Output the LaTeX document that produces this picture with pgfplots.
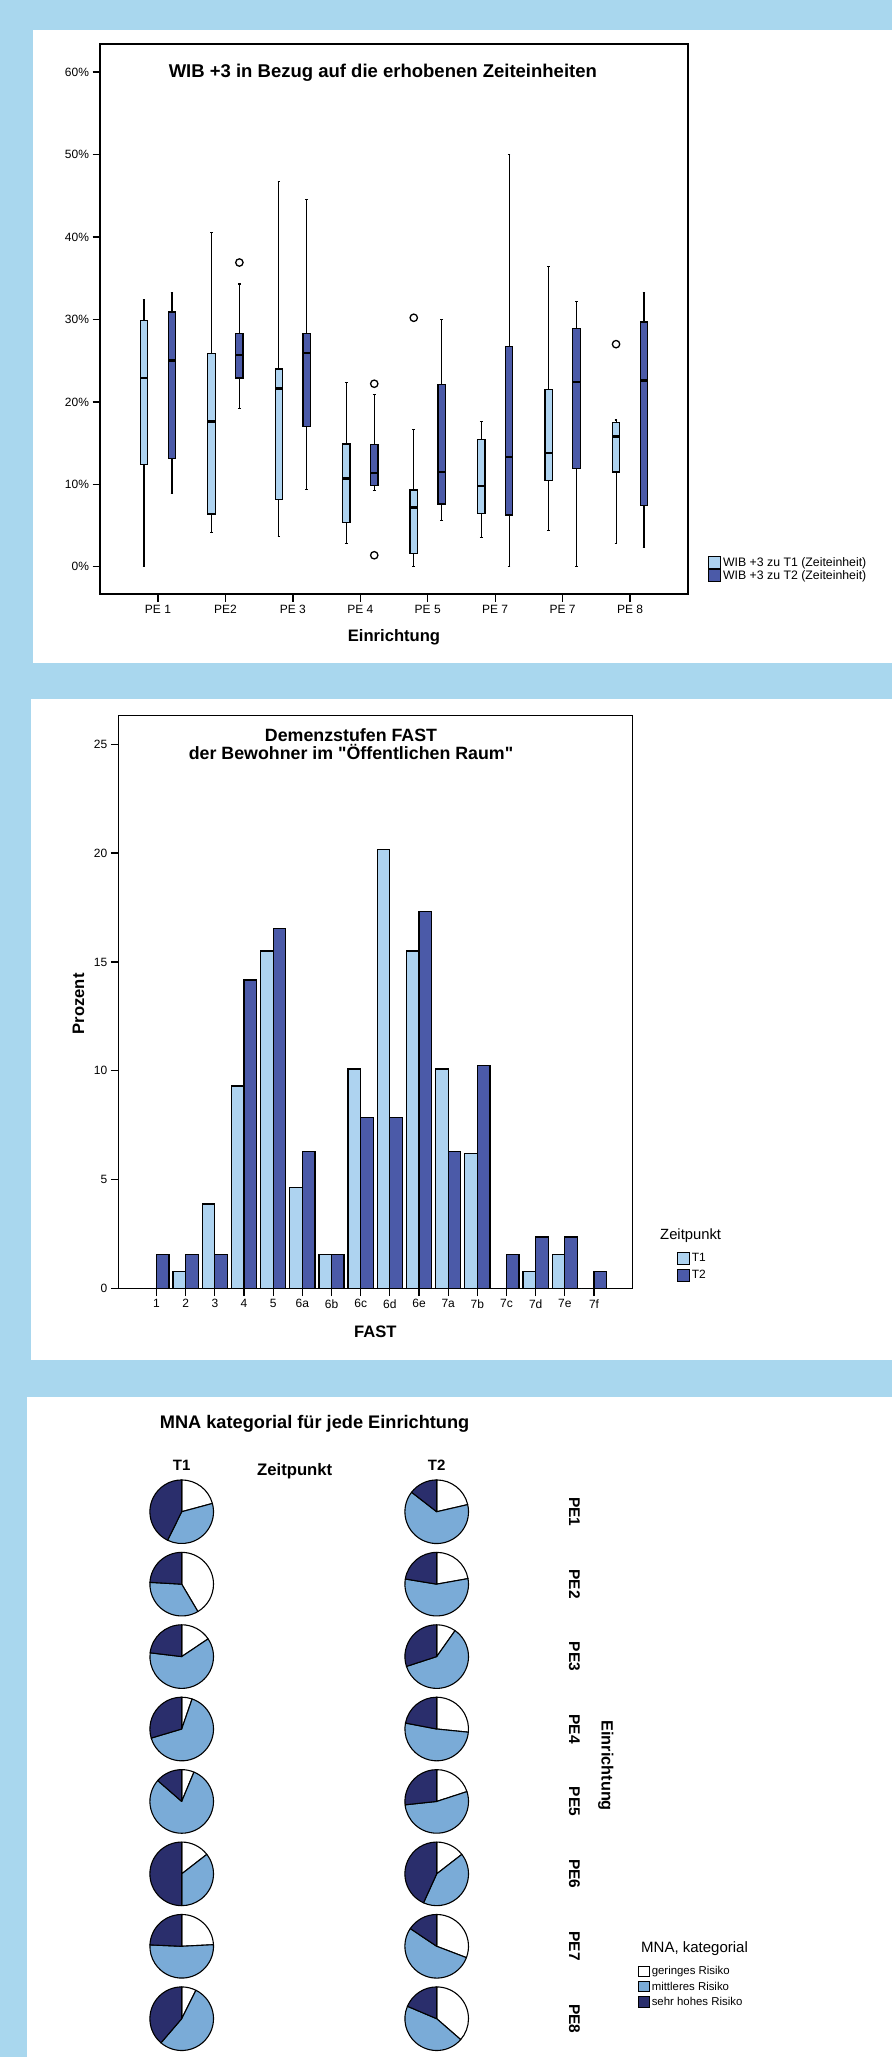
\documentclass[border=0pt]{standalone}
\usepackage{fontspec}
\setmainfont{Liberation Sans}
\usepackage{pgfplots}
\pgfplotsset{compat=1.18}
\usepgfplotslibrary{statistics}

\definecolor{bgblue}{HTML}{A9D7EE}
\definecolor{tone}{HTML}{AED3F0}
\definecolor{ttwo}{HTML}{4B5AA8}
\definecolor{pmid}{HTML}{7AABD7}
\definecolor{pdark}{HTML}{2A2E6C}

\newcommand{\fs}[2]{\fontsize{#1pt}{#2pt}\selectfont}
\pgfdeclareplotmark{nothing}{}

\pgfplotsset{
  spss/.style={
    scale only axis,
    clip=false,
    axis line style={line width=1.2pt},
    tick align=outside,
    tick pos=left,
    major tick length=7.5pt,
    tick style={black, line width=1.3pt},
    tick label style={font=\fs{12}{14}},
    /pgf/number format/assume math mode=true,
    legend image code/.code={\draw[#1, line width=1pt] (0pt,-5.8pt) rectangle (11.6pt,5.8pt);},
  },
  b1/.style={draw=black, fill=tone, mark=o, mark size=3.7pt,
    mark options={line width=1.3pt, fill=none}, forget plot},
  b2/.style={draw=black, fill=ttwo, mark=o, mark size=3.7pt,
    mark options={line width=1.3pt, fill=none}, forget plot},
}

\begin{document}
\begin{tikzpicture}
\path[use as bounding box] (0pt,0pt) rectangle (892pt,-2057pt);
\fill[bgblue] (0pt,0pt) rectangle (892pt,-2057pt);
\fill[white] (33pt,-29.5pt) rectangle (892pt,-662.6pt);
\fill[white] (31.3pt,-699pt) rectangle (892pt,-1359.5pt);
\fill[white] (27pt,-1397pt) rectangle (892pt,-2057pt);

% --- WIB +3 box plots
\begin{axis}[spss,
  at={(100pt,-594pt)}, anchor=south west,
  width=588pt, height=550pt,
  xmin=0.14, xmax=8.86, ymin=-3.3, ymax=63.4,
  xtick={1,...,8}, xticklabels={PE 1,PE2,PE 3,PE 4,PE 5,PE 7,PE 7,PE 8},
  ytick={0,10,...,60}, yticklabels={0\%,10\%,20\%,30\%,40\%,50\%,60\%},
  title={WIB +3 in Bezug auf die erhobenen Zeiteinheiten},
  every axis title/.style={at={(axis description cs:0.481,0.947)}, anchor=center, font=\bfseries\fs{18.5}{20}},
  xlabel={Einrichtung},
  every axis x label/.style={at={(axis description cs:0.5,-0.079)}, anchor=center, font=\bfseries\fs{16.6}{19}},
  legend style={draw=none, fill=none, at={(1.034,0.069)}, anchor=north west,
    inner sep=0pt, font=\fs{12.3}{14}, row sep=0.3pt, nodes={inner sep=0.8pt},
    /tikz/every odd column/.style={column sep=1.5pt}},
  legend cell align=left,
  boxplot/draw direction=y,
  boxplot/box extend=0.11,
  boxplot/whisker extend=0.04,
  boxplot/every median/.style={line width=2.5pt},
  boxplot/every whisker/.style={line width=1.1pt},
  boxplot/every box/.style={line width=1.3pt},
]
\addlegendimage{fill=tone, draw=black}
\addlegendentry{WIB +3 zu T1 (Zeiteinheit)}
\addlegendimage{fill=ttwo, draw=black}
\addlegendentry{WIB +3 zu T2 (Zeiteinheit)}

\addplot[b1, boxplot prepared={draw position=0.793, lower whisker=0, lower quartile=12.4, median=22.9, upper quartile=29.9, upper whisker=32.4}] coordinates {};
\addplot[b2, boxplot prepared={draw position=1.207, lower whisker=8.9, lower quartile=13.1, median=25.0, upper quartile=30.9, upper whisker=33.3}] coordinates {};
\addplot[b1, boxplot prepared={draw position=1.793, lower whisker=4.2, lower quartile=6.4, median=17.6, upper quartile=25.9, upper whisker=40.5}] coordinates {};
\addplot[b2, boxplot prepared={draw position=2.207, lower whisker=19.2, lower quartile=22.9, median=25.7, upper quartile=28.3, upper whisker=34.3}] coordinates {(0,36.9)};
\addplot[b1, boxplot prepared={draw position=2.793, lower whisker=3.7, lower quartile=8.2, median=21.6, upper quartile=24.0, upper whisker=46.7}] coordinates {};
\addplot[b2, boxplot prepared={draw position=3.207, lower whisker=9.4, lower quartile=17.0, median=25.9, upper quartile=28.3, upper whisker=44.5}] coordinates {};
\addplot[b1, boxplot prepared={draw position=3.793, lower whisker=2.8, lower quartile=5.4, median=10.7, upper quartile=14.9, upper whisker=22.3}] coordinates {};
\addplot[b2, boxplot prepared={draw position=4.207, lower whisker=9.3, lower quartile=9.9, median=11.4, upper quartile=14.8, upper whisker=20.9}] coordinates {(0,22.2) (0,1.4)};
\addplot[b1, boxplot prepared={draw position=4.793, lower whisker=0, lower quartile=1.6, median=7.2, upper quartile=9.3, upper whisker=16.7}] coordinates {(0,30.2)};
\addplot[b2, boxplot prepared={draw position=5.207, lower whisker=5.6, lower quartile=7.6, median=11.5, upper quartile=22.1, upper whisker=30.0}] coordinates {};
\addplot[b1, boxplot prepared={draw position=5.793, lower whisker=3.5, lower quartile=6.5, median=9.8, upper quartile=15.4, upper whisker=17.6}] coordinates {};
\addplot[b2, boxplot prepared={draw position=6.207, lower whisker=0, lower quartile=6.3, median=13.3, upper quartile=26.7, upper whisker=50.0}] coordinates {};
\addplot[b1, boxplot prepared={draw position=6.793, lower whisker=4.4, lower quartile=10.5, median=13.8, upper quartile=21.5, upper whisker=36.4}] coordinates {};
\addplot[b2, boxplot prepared={draw position=7.207, lower whisker=0, lower quartile=11.9, median=22.4, upper quartile=28.9, upper whisker=32.2}] coordinates {};
\addplot[b1, boxplot prepared={draw position=7.793, lower whisker=2.8, lower quartile=11.5, median=15.8, upper quartile=17.5, upper whisker=17.8}] coordinates {(0,27.0)};
\addplot[b2, boxplot prepared={draw position=8.207, lower whisker=2.3, lower quartile=7.4, median=22.6, upper quartile=29.7, upper whisker=33.3}] coordinates {};
\end{axis}

% --- FAST bar chart
\begin{axis}[spss,
  at={(118.3pt,-1288.5pt)}, anchor=south west,
  width=514.2pt, height=572.8pt,
  xmin=-1.31, xmax=16.32, ymin=0, ymax=26.31,
  xtick={0,...,15}, xticklabels={1,2,3,4,5,6a,6b,6c,6d,6e,7a,7b,7c,7d,7e,7f},
  ytick={0,5,...,25}, yticklabels={0,5,10,15,20,25},
  title={Demenzstufen FAST\\der Bewohner im \textquotedbl Öffentlichen Raum\textquotedbl},
  every axis title/.style={at={(axis description cs:0.4526,0.9504)}, anchor=center, align=center, font=\bfseries\fs{17.8}{17.6}},
  xlabel={FAST},
  every axis x label/.style={at={(axis description cs:0.5,-0.0756)}, anchor=center, font=\bfseries\fs{16.6}{19}},
  ylabel={Prozent},
  every axis y label/.style={at={(axis description cs:-0.0774,0.497)}, anchor=center, rotate=90, font=\bfseries\fs{16.6}{19}},
  legend style={draw=none, fill=none, at={(1.086,0.0642)}, anchor=north west,
    inner sep=0pt, font=\fs{12}{14}, row sep=4.6pt, nodes={inner sep=0.8pt},
    /tikz/every odd column/.style={column sep=1.5pt}},
  legend cell align=left,
]
\addlegendimage{fill=tone, draw=black}
\addlegendentry{T1}
\addlegendimage{fill=ttwo, draw=black}
\addlegendentry{T2}
\node[anchor=west, inner sep=0pt, font=\fs{14.8}{16}] at (axis description cs:1.0535,0.0925) {Zeitpunkt};

\addplot[ybar, bar width=12.6pt, bar shift=-6.3pt, fill=tone, draw=black, line width=1.3pt, forget plot] coordinates {
  (0,0) (1,0.78) (2,3.88) (3,9.30) (4,15.50) (5,4.65) (6,1.55) (7,10.08)
  (8,20.16) (9,15.50) (10,10.08) (11,6.20) (12,0) (13,0.78) (14,1.55) (15,0)
};
\addplot[ybar, bar width=12.6pt, bar shift=6.3pt, fill=ttwo, draw=black, line width=1.3pt, forget plot] coordinates {
  (0,1.57) (1,1.57) (2,1.57) (3,14.17) (4,16.54) (5,6.30) (6,1.57) (7,7.87)
  (8,7.87) (9,17.32) (10,6.30) (11,10.24) (12,1.57) (13,2.36) (14,2.36) (15,0.79)
};
\end{axis}

% --- MNA pies
\begin{axis}[
  scale only axis, clip=false,
  at={(54.2pt,-2054.9pt)}, anchor=south west,
  width=510pt, height=579.4pt,
  xmin=0.5, xmax=2.5, ymin=0.5, ymax=8.5,
  axis line style={draw=none},
  major tick length=0pt, tick style={draw=none},
  xtick={1,2}, xticklabels={T1,T2}, xticklabel pos=right,
  xticklabel style={anchor=center, yshift=10.5pt, font=\bfseries\fs{15}{17}},
  ytick={1,...,8}, yticklabels={PE8,PE7,PE6,PE5,PE4,PE3,PE2,PE1}, yticklabel pos=right,
  yticklabel style={xshift=10.3pt, rotate=-90, anchor=center, font=\bfseries\fs{15.5}{17}},
  title={MNA kategorial für jede Einrichtung},
  every axis title/.style={at={(axis description cs:0.5106,1.0896)}, anchor=center, font=\bfseries\fs{18.2}{20}},
  xlabel={Zeitpunkt},
  every axis x label/.style={at={(axis description cs:0.4716,1.007)}, anchor=center, font=\bfseries\fs{16.7}{19}},
  ylabel={Einrichtung},
  every axis y label/.style={at={(axis description cs:1.0816,0.4993)}, anchor=center, rotate=-90, font=\bfseries\fs{16.3}{19}},
  legend image code/.code={\draw[#1, line width=1pt] (0pt,-5.2pt) rectangle (10.6pt,5.2pt);},
  legend style={draw=none, fill=none, at={(1.1447,0.1543)}, anchor=north west,
    inner sep=0pt, font=\fs{11.4}{13}, row sep=3.8pt, nodes={inner sep=0.8pt},
    /tikz/every odd column/.style={column sep=1.2pt}},
  legend cell align=left,
]
\addlegendimage{fill=white, draw=black}
\addlegendentry{geringes Risiko}
\addlegendimage{fill=pmid, draw=black}
\addlegendentry{mittleres Risiko}
\addlegendimage{fill=pdark, draw=black}
\addlegendentry{sehr hohes Risiko}
\node[anchor=west, inner sep=0pt, font=\fs{15}{17}] at (axis description cs:1.1506,0.1828) {MNA, kategorial};

\addplot[only marks, scatter, mark=nothing, forget plot,
  visualization depends on={\thisrow{g} \as \valG},
  visualization depends on={\thisrow{m} \as \valM},
  scatter/@pre marker code/.code={%
    \pgfmathsetmacro\angA{90-3.6*\valG}%
    \pgfmathsetmacro\angB{\angA-3.6*\valM}%
    \filldraw[fill=white, draw=black, line width=1.1pt, line join=round]
      (0pt,0pt) -- (90:31.8pt) arc[start angle=90, end angle=\angA, radius=31.8pt] -- cycle;
    \filldraw[fill=pmid, draw=black, line width=1.1pt, line join=round]
      (0pt,0pt) -- (\angA:31.8pt) arc[start angle=\angA, end angle=\angB, radius=31.8pt] -- cycle;
    \filldraw[fill=pdark, draw=black, line width=1.1pt, line join=round]
      (0pt,0pt) -- (\angB:31.8pt) arc[start angle=\angB, end angle=-270, radius=31.8pt] -- cycle;
    \begingroup
  },
  scatter/@post marker code/.code={\endgroup},
] table {
x y g m h
1 8 20.8 36.5 42.7
2 8 21.4 64.1 14.5
1 7 41.5 34.4 24.1
2 7 22.2 55.4 22.4
1 6 15.6 61.3 23.1
2 6 9.8 60.2 30.0
1 5 5.3 65.1 29.6
2 5 26.6 51.4 22.0
1 4 6.3 80.1 13.6
2 4 20.0 53.3 26.7
1 3 14.5 35.5 50.0
2 3 14.5 42.3 43.2
1 2 24.2 51.5 24.3
2 2 30.8 53.6 15.6
1 1 7.4 53.9 38.7
2 1 36.4 45.0 18.6
};
\end{axis}
\end{tikzpicture}
\end{document}
